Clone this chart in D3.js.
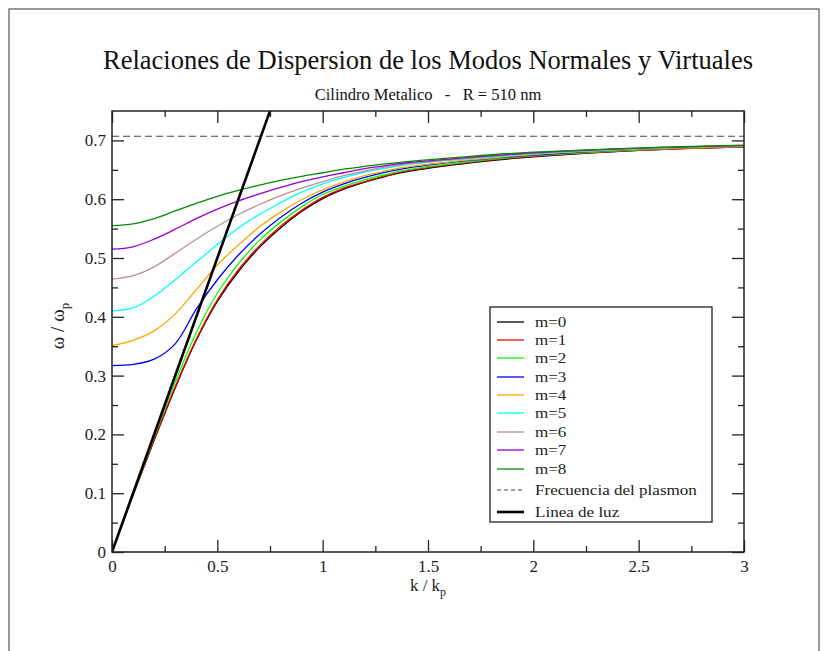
<!DOCTYPE html>
<html>
<head>
<meta charset="utf-8">
<script src="https://cdn.jsdelivr.net/npm/d3@7"></script>
<style>
  body { margin: 0; background: #fff; }
  svg { display: block; }
  text { font-family: "Liberation Serif", "DejaVu Serif", serif; }
</style>
</head>
<body>
<svg id="chart" width="828" height="651"></svg>
<script>
// k / kp sample points shared by every mode
const kVals = [0, 0.1, 0.2, 0.3, 0.4, 0.5, 0.6, 0.7, 0.8, 0.9, 1.0, 1.1, 1.2, 1.3, 1.4, 1.7, 2.0, 2.5, 3.0];

// omega / omega_p, one list per mode
const m0 = [0, 0.097, 0.19, 0.279, 0.36, 0.426, 0.477, 0.518, 0.551, 0.579, 0.601, 0.617, 0.629, 0.639, 0.647, 0.662, 0.672, 0.683, 0.689];
const m1 = [0, 0.097, 0.191, 0.281, 0.362, 0.429, 0.480, 0.521, 0.554, 0.581, 0.603, 0.619, 0.630, 0.640, 0.648, 0.663, 0.673, 0.683, 0.689];
const m2 = [0, 0.098, 0.195, 0.289, 0.373, 0.44, 0.49, 0.53, 0.561, 0.587, 0.608, 0.622, 0.633, 0.642, 0.650, 0.664, 0.674, 0.684, 0.690];
const m3 = [0.317, 0.319, 0.328, 0.354, 0.413, 0.463, 0.505, 0.540, 0.569, 0.593, 0.612, 0.626, 0.637, 0.646, 0.653, 0.666, 0.675, 0.685, 0.690];
const m4 = [0.351, 0.36, 0.376, 0.405, 0.446, 0.488, 0.522, 0.553, 0.578, 0.599, 0.616, 0.629, 0.640, 0.648, 0.655, 0.667, 0.676, 0.685, 0.690];
const m5 = [0.41, 0.415, 0.435, 0.463, 0.493, 0.523, 0.551, 0.574, 0.594, 0.612, 0.626, 0.637, 0.646, 0.653, 0.659, 0.669, 0.677, 0.686, 0.691];
const m6 = [0.464, 0.47, 0.485, 0.508, 0.532, 0.554, 0.574, 0.591, 0.606, 0.619, 0.630, 0.640, 0.648, 0.655, 0.660, 0.670, 0.678, 0.686, 0.691];
const m7 = [0.515, 0.519, 0.532, 0.549, 0.567, 0.583, 0.597, 0.609, 0.620, 0.630, 0.638, 0.645, 0.652, 0.657, 0.662, 0.671, 0.679, 0.687, 0.691];
const m8 = [0.555, 0.558, 0.567, 0.580, 0.593, 0.605, 0.615, 0.624, 0.632, 0.639, 0.645, 0.651, 0.656, 0.660, 0.664, 0.673, 0.680, 0.687, 0.692];

const modes = [m0, m1, m2, m3, m4, m5, m6, m7, m8];
const modeNames = ["m=0", "m=1", "m=2", "m=3", "m=4", "m=5", "m=6", "m=7", "m=8"];
const modeColors = ["#000000", "#ff0000", "#00ff00", "#0000ff", "#ffa500", "#00ffff", "#bc8f8f", "#9400d3", "#008b00"];

// plasmon frequency and light line
const plasmonW = 0.7071;
const lightK = [0, 0.8];
const lightW = [0, 0.8];

const xTicks = [0, 0.5, 1, 1.5, 2, 2.5, 3];
const xMinor = [0.25, 0.75, 1.25, 1.75, 2.25, 2.75];
const yTicks = [0, 0.1, 0.2, 0.3, 0.4, 0.5, 0.6, 0.7];
const yMinor = [0.05, 0.15, 0.25, 0.35, 0.45, 0.55, 0.65];

const title = "Relaciones de Dispersion de los Modos Normales y Virtuales";
const subtitle = "Cilindro Metalico   -   R = 510 nm";
const serif = "Liberation Serif, DejaVu Serif, serif";

const plot = { left: 112, right: 744, top: 111, bottom: 552 };

const svg = d3.select("#chart");

// page frame
svg.append("rect")
  .attr("x", 9).attr("y", 9).attr("width", 810).attr("height", 700)
  .attr("fill", "none").attr("stroke", "#555").attr("stroke-width", 1.2);

const x = d3.scaleLinear().domain([0, 3]).range([plot.left, plot.right]);
const y = d3.scaleLinear().domain([0, 0.75]).range([plot.bottom, plot.top]);

svg.append("text")
  .attr("x", (plot.left + plot.right) / 2).attr("y", 69)
  .attr("text-anchor", "middle").attr("font-family", serif)
  .attr("font-size", 26.5).attr("fill", "#111")
  .text(title);

svg.append("text")
  .attr("x", (plot.left + plot.right) / 2).attr("y", 100)
  .attr("text-anchor", "middle").attr("font-family", serif)
  .attr("font-size", 16.5).attr("fill", "#111")
  .style("white-space", "pre")
  .text(subtitle);

svg.append("clipPath").attr("id", "clip")
  .append("rect")
  .attr("x", plot.left).attr("y", plot.top)
  .attr("width", plot.right - plot.left).attr("height", plot.bottom - plot.top);

const g = svg.append("g").attr("clip-path", "url(#clip)");

// plasmon frequency (dashed)
g.append("line")
  .attr("x1", x(0)).attr("x2", x(3))
  .attr("y1", y(plasmonW)).attr("y2", y(plasmonW))
  .attr("stroke", "#444").attr("stroke-width", 1.2)
  .attr("stroke-dasharray", "7,4");

const line = d3.line()
  .x((d, i) => x(kVals[i]))
  .y(d => y(d))
  .curve(d3.curveCatmullRom.alpha(0.5));

modes.forEach((m, i) => {
  g.append("path")
    .attr("d", line(m))
    .attr("fill", "none")
    .attr("stroke", modeColors[i])
    .attr("stroke-width", 1.3);
});

// light line
g.append("path")
  .attr("d", d3.line().x((d, i) => x(lightK[i])).y(d => y(d))(lightW))
  .attr("fill", "none").attr("stroke", "#000").attr("stroke-width", 2.6);

// frame
svg.append("rect")
  .attr("x", plot.left).attr("y", plot.top)
  .attr("width", plot.right - plot.left).attr("height", plot.bottom - plot.top)
  .attr("fill", "none").attr("stroke", "#222").attr("stroke-width", 1.5);

// axes, ticks pointing inward on all four sides
const axisStyle = sel => {
  sel.select(".domain").remove();
  sel.selectAll(".tick line").attr("stroke", "#222").attr("stroke-width", 1.3);
  sel.selectAll("text").attr("font-family", serif).attr("font-size", 17).attr("fill", "#222");
};

const fmt = d => d3.format("")(d);

svg.append("g").attr("transform", `translate(0,${plot.bottom})`)
  .call(d3.axisBottom(x).tickValues(xTicks).tickSize(-12).tickPadding(8).tickFormat(fmt))
  .call(axisStyle);
svg.append("g").attr("transform", `translate(0,${plot.bottom})`)
  .call(d3.axisBottom(x).tickValues(xMinor).tickSize(-6).tickFormat(""))
  .call(axisStyle);
svg.append("g").attr("transform", `translate(0,${plot.top})`)
  .call(d3.axisTop(x).tickValues(xTicks).tickSize(-12).tickFormat(""))
  .call(axisStyle);
svg.append("g").attr("transform", `translate(0,${plot.top})`)
  .call(d3.axisTop(x).tickValues(xMinor).tickSize(-6).tickFormat(""))
  .call(axisStyle);

svg.append("g").attr("transform", `translate(${plot.left},0)`)
  .call(d3.axisLeft(y).tickValues(yTicks).tickSize(-12).tickPadding(6).tickFormat(fmt))
  .call(axisStyle);
svg.append("g").attr("transform", `translate(${plot.left},0)`)
  .call(d3.axisLeft(y).tickValues(yMinor).tickSize(-6).tickFormat(""))
  .call(axisStyle);
svg.append("g").attr("transform", `translate(${plot.right},0)`)
  .call(d3.axisRight(y).tickValues(yTicks).tickSize(-12).tickFormat(""))
  .call(axisStyle);
svg.append("g").attr("transform", `translate(${plot.right},0)`)
  .call(d3.axisRight(y).tickValues(yMinor).tickSize(-6).tickFormat(""))
  .call(axisStyle);

// axis titles
const xt = svg.append("text")
  .attr("x", (plot.left + plot.right) / 2).attr("y", 591)
  .attr("text-anchor", "middle").attr("font-family", serif)
  .attr("font-size", 17).attr("fill", "#222");
xt.append("tspan").text("k / k");
xt.append("tspan").attr("font-size", 12).attr("dy", 5).text("p");

const yt = svg.append("text")
  .attr("transform", "translate(64,326) rotate(-90)")
  .attr("text-anchor", "middle").attr("font-family", serif)
  .attr("font-size", 19).attr("fill", "#222");
yt.append("tspan").text("\u03c9 / \u03c9");
yt.append("tspan").attr("font-size", 13).attr("dy", 5).text("p");

// legend
const legNames = modeNames.concat(["Frecuencia del plasmon", "Linea de luz"]);
const legColors = modeColors.concat(["#444", "#000"]);
const legDash = modeNames.map(() => null).concat(["4,3", null]);
const legWidth = modeNames.map(() => 1.3).concat([1.2, 2.6]);
const legY = [322, 340, 358, 377, 395, 413, 432, 450, 469, 490, 512];

const leg = svg.append("g");
leg.append("rect")
  .attr("x", 490).attr("y", 307).attr("width", 222).attr("height", 215)
  .attr("fill", "#fff").attr("stroke", "#222").attr("stroke-width", 1.3);

legNames.forEach((n, i) => {
  leg.append("line")
    .attr("x1", 497).attr("x2", 524)
    .attr("y1", legY[i]).attr("y2", legY[i])
    .attr("stroke", legColors[i]).attr("stroke-width", legWidth[i])
    .attr("stroke-dasharray", legDash[i]);
  leg.append("text")
    .attr("transform", `translate(535,${legY[i] + 5}) scale(1.1,1)`)
    .attr("font-family", serif)
    .attr("font-size", 15.5).attr("fill", "#222")
    .text(n);
});
</script>
</body>
</html>
